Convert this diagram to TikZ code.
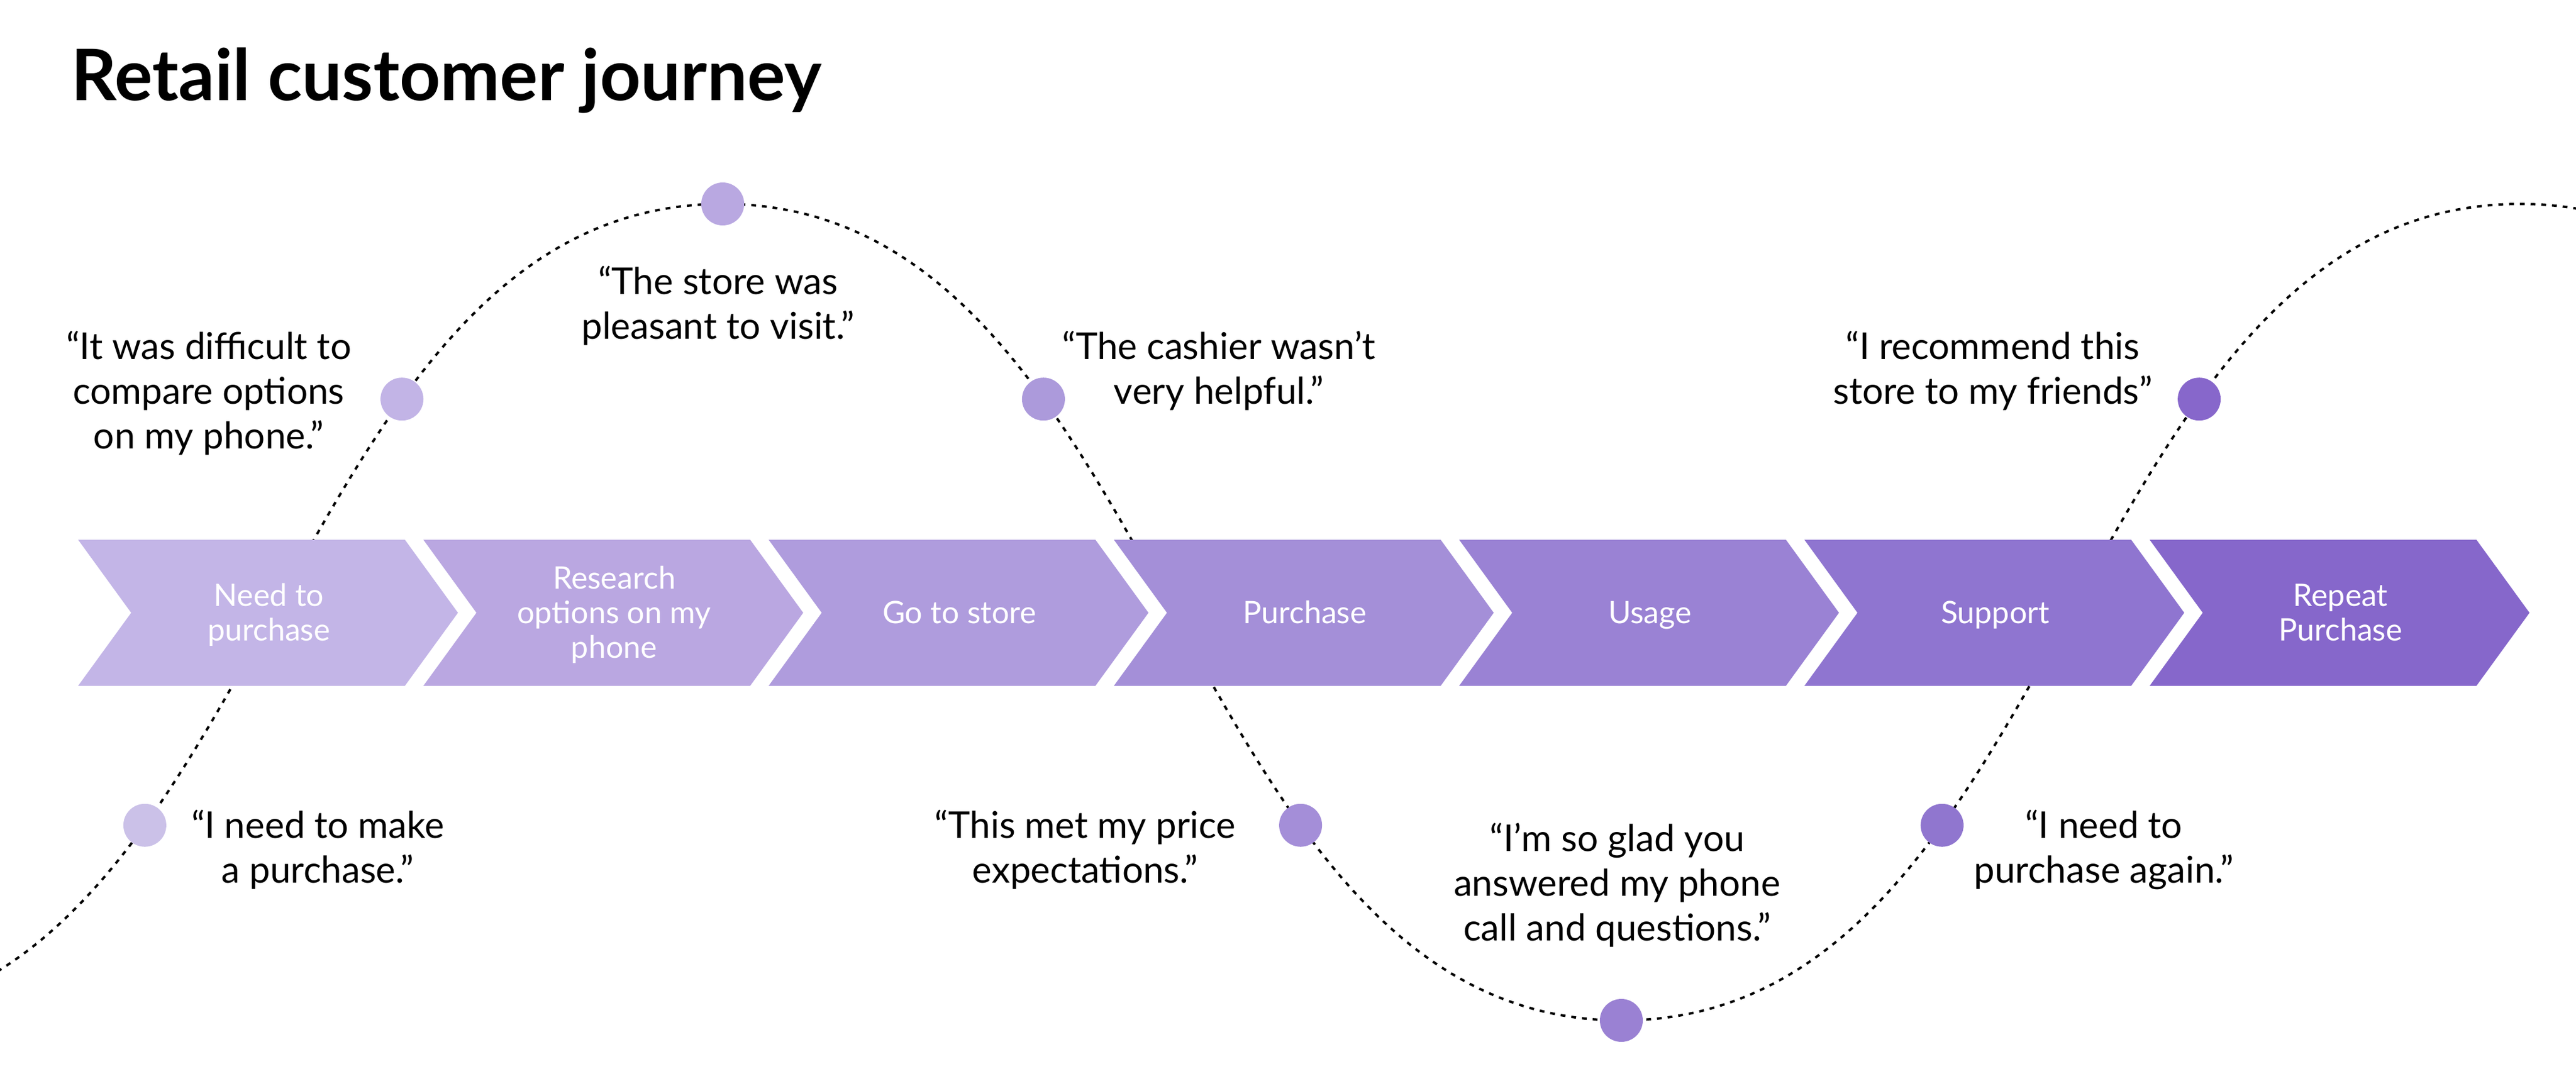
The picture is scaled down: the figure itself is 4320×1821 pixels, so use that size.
\documentclass[tikz,border=0pt]{standalone}
\usepackage{fontspec}
\setmainfont{Lato}
\pgfdeclarelayer{bg}
\pgfsetlayers{bg,main}
\definecolor{chA}{HTML}{C3B5E7}
\definecolor{chB}{HTML}{BAA7E1}
\definecolor{chC}{HTML}{AF9CDD}
\definecolor{chD}{HTML}{A48FD8}
\definecolor{chE}{HTML}{9A82D4}
\definecolor{chF}{HTML}{8F75D0}
\definecolor{chG}{HTML}{8667CB}
\definecolor{dtA}{HTML}{CBC1E8}
\definecolor{dtB}{HTML}{C2B4E6}
\definecolor{dtC}{HTML}{B9A8E1}
\definecolor{dtD}{HTML}{AC9ADB}
\definecolor{dtE}{HTML}{A48ED8}
\definecolor{dtF}{HTML}{9A81D3}
\definecolor{dtG}{HTML}{9076CF}
\definecolor{dtH}{HTML}{8767CB}
\begin{document}
\begin{tikzpicture}[x=0.25pt,y=-0.25pt,
  wave/.style={line width=1pt, dash pattern=on 2pt off 2.5pt, black},
  dotnode/.style={circle, minimum size=18pt, inner sep=0pt, draw=none},
  quote/.style={font=\fontsize{15.5}{18.75}\selectfont, align=center, anchor=base, text=black, inner sep=0pt},
  steplabel/.style={font=\fontsize{13}{14.5}\selectfont, align=center, anchor=base, text=white, inner sep=0pt},
  chevron/.style={draw=none}
]
\useasboundingbox (0,0) rectangle (4320,1821);

% title
\node[anchor=base west, inner sep=0pt, font=\fontsize{29.8}{36}\selectfont\bfseries] (title) at (119,168) {Retail customer journey};

% chevrons
\foreach \i/\col in {0/chA,1/chB,2/chC,3/chD,4/chE,5/chF,6/chG}{
  \fill[chevron, \col] ({131+\i*579},905) -- ++(548,0) -- ++(89,122.5) -- ++(-89,122.5) -- ++(-548,0) -- ++(89,-122.5) -- cycle;
}
\node[steplabel] (s1) at (451,1074) {Need to\\purchase};
\node[steplabel] (s2) at (1030,1103) {Research\\options on my\\phone};
\node[steplabel] (s3) at (1609,1045) {Go to store};
\node[steplabel] (s4) at (2188,1045) {Purchase};
\node[steplabel] (s5) at (2767,1045) {Usage};
\node[steplabel] (s6) at (3346,1045) {Support};
\node[steplabel] (s7) at (3925,1074) {Repeat\\Purchase};

% dots
\node[dotnode, fill=dtA] (d1) at (242.9,1383.8) {};
\node[dotnode, fill=dtB] (d2) at (674.1,669.2) {};
\node[dotnode, fill=dtC] (d3) at (1212,342) {};
\node[dotnode, fill=dtD] (d4) at (1749.9,669.2) {};
\node[dotnode, fill=dtE] (d5) at (2181.1,1383.8) {};
\node[dotnode, fill=dtF] (d6) at (2719,1711) {};
\node[dotnode, fill=dtG] (d7) at (3256.9,1383.8) {};
\node[dotnode, fill=dtH] (d8) at (3688.1,669.2) {};
\coordinate (t0) at (-295,1711);
\coordinate (p2) at (4226,342);
\coordinate (e2) at (4763.9,669.2);

% wave
\begin{pgfonlayer}{bg}
\begin{scope}
\clip (0,0) rectangle (4320,1821);
\draw[wave] (t0) .. controls +(238.5,0) and +(-136,188.8) .. (d1.center)
  .. controls +(155.7,-216.2) and +(-155.7,216.2) .. (d2.center)
  .. controls +(136,-188.8) and +(-238.5,0) .. (d3.center)
  .. controls +(238.5,0) and +(-136,-188.8) .. (d4.center)
  .. controls +(155.7,216.2) and +(-155.7,-216.2) .. (d5.center)
  .. controls +(136,188.8) and +(-238.5,0) .. (d6.center)
  .. controls +(238.5,0) and +(-136,188.8) .. (d7.center)
  .. controls +(155.7,-216.2) and +(-155.7,216.2) .. (d8.center)
  .. controls +(136,-188.8) and +(-238.5,0) .. (p2)
  .. controls +(238.5,0) and +(-136,-188.8) .. (e2);
\end{scope}
\end{pgfonlayer}

% quotes (anchor base = baseline of last line)
\node[quote] (q1) at (533,1480) {“I need to make\\a purchase.”};
\node[quote] (q2) at (350,752) {“It was difficult to\\compare options\\on my phone.”};
\node[quote] (q3) at (1204,568) {“The store was\\pleasant to visit.”};
\node[quote] (q4) at (2044,677) {“The cashier wasn’t\\very helpful.”};
\node[quote] (q5) at (1820,1480) {“This met my price\\expectations.”};
\node[quote] (q6) at (2712,1577) {“I’m so glad you\\answered my phone\\call and questions.”};
\node[quote] (q7) at (3528,1480) {“I need to\\purchase again.”};
\node[quote] (q8) at (3342,677) {“I recommend this\\store to my friends”};
\end{tikzpicture}
\end{document}
